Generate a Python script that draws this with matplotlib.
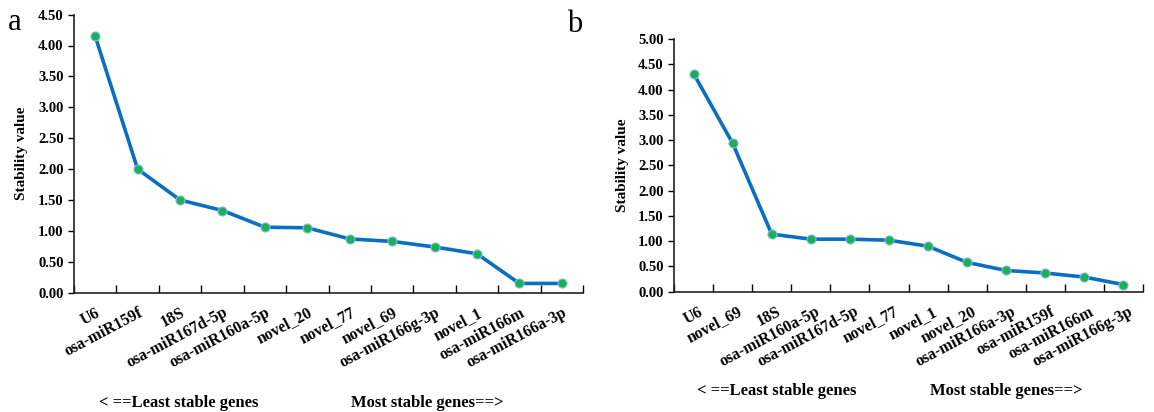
import numpy as np
import matplotlib
matplotlib.use("Agg")
import matplotlib.pyplot as plt
import matplotlib.ticker as mticker

plt.rcParams['font.family'] = ['Liberation Serif', 'DejaVu Serif']

# panel a
genes_a = ['U6', 'osa-miR159f', '18S', 'osa-miR167d-5p', 'osa-miR160a-5p', 'novel_20',
           'novel_77', 'novel_69', 'osa-miR166g-3p', 'novel_1', 'osa-miR166m', 'osa-miR166a-3p']
stab_a = [4.15, 2.00, 1.50, 1.33, 1.06, 1.05, 0.87, 0.83, 0.74, 0.63, 0.15, 0.15]

# panel b
genes_b = ['U6', 'novel_69', '18S', 'osa-miR160a-5p', 'osa-miR167d-5p', 'novel_77',
           'novel_1', 'novel_20', 'osa-miR166a-3p', 'osa-miR159f', 'osa-miR166m', 'osa-miR166g-3p']
stab_b = [4.32, 2.94, 1.14, 1.04, 1.04, 1.02, 0.90, 0.58, 0.42, 0.37, 0.29, 0.14]

LINE = '#0a6fc2'
DOT = '#1bb14f'


def draw_panel(ax, genes, vals, ymax, lab_x, shift):
    x = np.arange(len(genes))
    ax.plot(x, vals, color=LINE, lw=2.6, zorder=2)
    ax.plot(x, vals, 'o', ms=6.5, mfc=DOT, mec='#7fb9e6', mew=0.8, zorder=3)

    ax.set_xlim(-0.5, len(genes) - 0.5)
    ax.set_ylim(0, ymax)
    ax.yaxis.set_major_locator(mticker.MultipleLocator(0.5))
    ax.yaxis.set_major_formatter(mticker.FormatStrFormatter('%.2f'))

    # slanted category labels, nudged right of each category like the original
    ax.set_xticks([])
    for i, g in enumerate(genes):
        ax.annotate(g, xy=(i, 0), xycoords=('data', 'axes fraction'),
                    xytext=(shift, -12), textcoords='offset pixels',
                    rotation=28, ha='right', va='top',
                    fontweight='bold', fontsize=11.5, annotation_clip=False)
    ax.set_xticks(np.arange(-0.5, len(genes)), minor=True)
    ax.tick_params(axis='x', which='minor', direction='in', length=6, width=1)
    ax.tick_params(axis='y', direction='out', length=4, width=1, labelsize=10.5)
    for t in ax.get_yticklabels():
        t.set_fontweight('bold')

    for s in ['top', 'right']:
        ax.spines[s].set_visible(False)
    for s in ['left', 'bottom']:
        ax.spines[s].set_linewidth(1.2)
        ax.spines[s].set_color('#222222')

    ax.set_ylabel('Stability value', fontweight='bold', fontsize=11)
    ax.yaxis.set_label_coords(lab_x, 0.5)

    ax.text(0.05, -0.395, '< ==Least stable genes', transform=ax.transAxes,
            fontweight='bold', fontsize=12, va='center', ha='left')
    ax.text(0.545, -0.395, 'Most stable genes==>', transform=ax.transAxes,
            fontweight='bold', fontsize=12, va='center', ha='left')


fig = plt.figure(figsize=(11.54, 4.12), dpi=100)
ax_a = fig.add_axes([74 / 1154, 1 - 292.7 / 412, (583 - 74) / 1154, (292.7 - 14.6) / 412])
ax_b = fig.add_axes([674 / 1154, 1 - 291.7 / 412, (1143 - 674) / 1154, (291.7 - 39.2) / 412])

draw_panel(ax_a, genes_a, stab_a, 4.5, -0.09, 8)
draw_panel(ax_b, genes_b, stab_b, 5.0, -0.095, 12)

fig.text(8 / 1154, 1 - 22 / 412, 'a', fontsize=22, va='center', ha='left')
fig.text(567 / 1154, 1 - 25 / 412, 'b', fontsize=22, va='center', ha='left')

fig.savefig('out.png', dpi=100)
